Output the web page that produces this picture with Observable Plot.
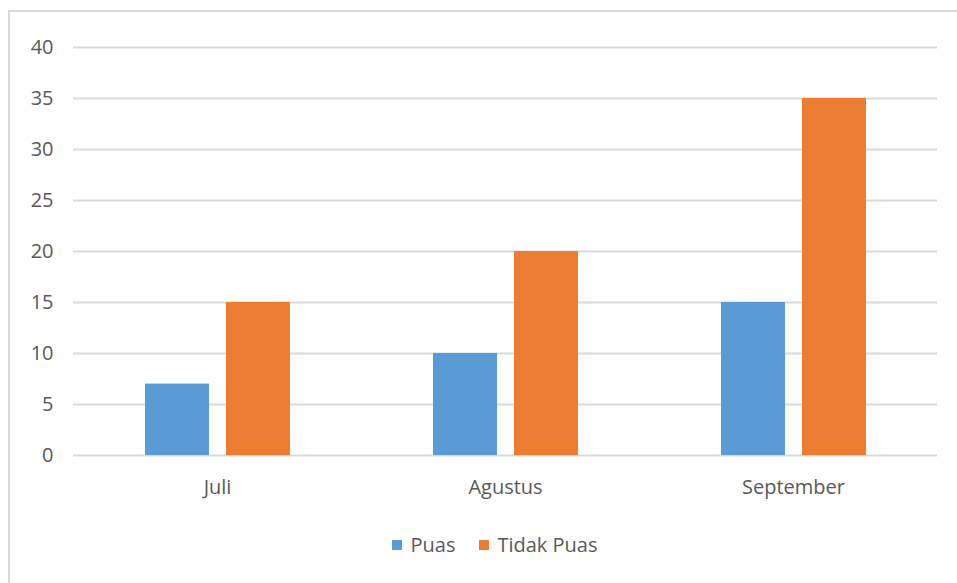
<!DOCTYPE html>
<html>
<head>
<meta charset="utf-8">
<script src="https://cdn.jsdelivr.net/npm/d3@7"></script>
<script src="https://cdn.jsdelivr.net/npm/@observablehq/plot@0.6"></script>
<style>
  html, body { margin: 0; padding: 0; background: #fff; overflow: hidden; }
  #wrap { position: relative; width: 957px; height: 583px; font-family: "Open Sans", sans-serif; }
  #frame { position: absolute; left: 8px; top: 10px; width: 1000px; height: 700px; border: 2px solid #d9d9d9; box-sizing: border-box; }
  #chart { position: absolute; left: 0; top: 0; }
  #legend { position: absolute; left: 0; width: 990px; top: 531px; display: flex; justify-content: center; gap: 24px; font-size: 20px; color: #595959; }
  .item { display: flex; align-items: center; gap: 8px; }
  .sw { width: 10px; height: 10px; display: inline-block; }
</style>
</head>
<body>
<div id="wrap">
  <div id="frame"></div>
  <div id="chart"></div>
  <div id="legend"></div>
</div>
<script>
const months = ["Juli", "Agustus", "September"];
const series = ["Puas", "Tidak Puas"];
const puas = [7, 10, 15];
const tidakPuas = [15, 20, 35];
const colors = ["#5B9BD5", "#ED7D31"];
const yTicks = [0, 5, 10, 15, 20, 25, 30, 35, 40];

const data = [];
months.forEach((m, i) => {
  data.push({month: m, series: series[0], value: puas[i]});
  data.push({month: m, series: series[1], value: tidakPuas[i]});
});

const plot = Plot.plot({
  width: 957,
  height: 500,
  marginLeft: 72,
  marginRight: 20,
  marginTop: 47,
  marginBottom: 45,
  style: {fontFamily: "Open Sans, sans-serif", fontSize: "20px", color: "#595959", background: "transparent", overflow: "visible"},
  fx: {domain: months, padding: 0, label: null, axis: null},
  x: {domain: series, paddingInner: 0.21, paddingOuter: 0.88, axis: null},
  y: {domain: [0, 40], label: null},
  color: {domain: series, range: colors},
  marks: [
    Plot.ruleY(yTicks, {stroke: "#d9d9d9", strokeWidth: 2, strokeOpacity: 1}),
    Plot.barY(data, {fx: "month", x: "series", y: "value", fill: "series"}),
    Plot.axisY({ticks: yTicks, tickSize: 0, tickPadding: 20, label: null, fill: "#595959", fontSize: 20}),
    Plot.axisFx({anchor: "bottom", tickSize: 0, tickPadding: 24, label: null, fill: "#595959", fontSize: 20})
  ]
});
document.getElementById("chart").appendChild(plot);

const legend = document.getElementById("legend");
series.forEach((s, i) => {
  const it = document.createElement("div");
  it.className = "item";
  const sw = document.createElement("span");
  sw.className = "sw";
  sw.style.background = colors[i];
  const t = document.createElement("span");
  t.textContent = s;
  it.appendChild(sw);
  it.appendChild(t);
  legend.appendChild(it);
});
</script>
</body>
</html>
